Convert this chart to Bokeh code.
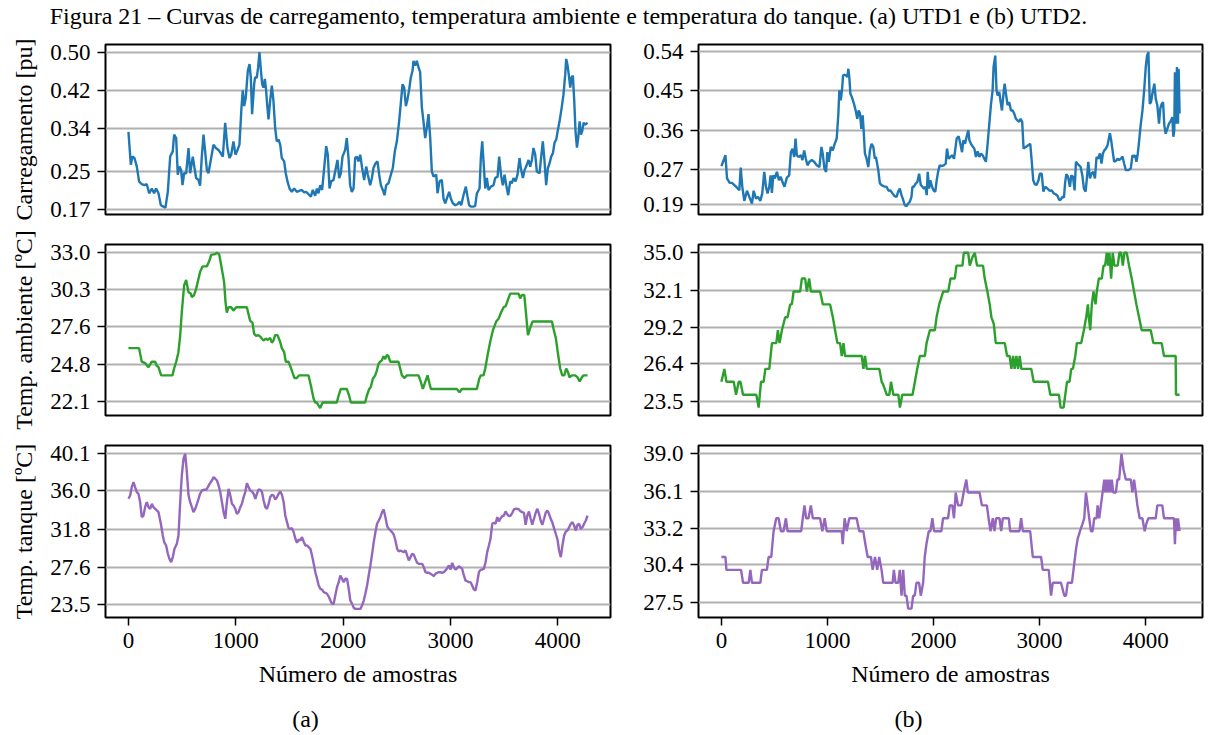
from bokeh.plotting import figure
from bokeh.layouts import column, row
from bokeh.models import Range1d, FixedTicker, PrintfTickFormatter, Label
from bokeh.embed import file_html
from bokeh.resources import INLINE

# ---------------------------------------------------------------- textos
TITULO = ("Figura 21 \u2013 Curvas de carregamento, temperatura ambiente e "
          "temperatura do tanque. (a) UTD1 e (b) UTD2.")
ROTULO_X = "Número de amostras"
ROTULOS_Y = ["Carregamento [pu]", "Temp. ambiente [ºC]", "Temp. tanque [ºC]"]
SUBLEGENDAS = ["(a)", "(b)"]

# ---------------------------------------------------------------- ticks
amostras_ticks = [0, 1000, 2000, 3000, 4000]
ticks_carga_utd1 = [0.17, 0.25, 0.34, 0.42, 0.50]
ticks_carga_utd2 = [0.19, 0.27, 0.36, 0.45, 0.54]
ticks_amb_utd1 = [22.1, 24.8, 27.6, 30.3, 33.0]
ticks_amb_utd2 = [23.5, 26.4, 29.2, 32.1, 35.0]
ticks_tanque_utd1 = [23.5, 27.6, 31.8, 36.0, 40.1]
ticks_tanque_utd2 = [27.5, 30.4, 33.2, 36.1, 39.0]

# ---------------------------------------------------------------- séries (amostra, valor)
carga_utd1 = [
    (0, 0.333), (22, 0.264), (37, 0.281), (56, 0.278), (78, 0.260), (99, 0.229), (124, 0.223),
    (149, 0.221), (171, 0.223), (193, 0.204), (218, 0.214), (239, 0.204), (258, 0.214), (280, 0.204),
    (302, 0.179), (326, 0.176), (345, 0.174), (367, 0.207), (389, 0.281), (413, 0.292), (426, 0.327),
    (445, 0.320), (460, 0.243), (476, 0.260), (491, 0.253), (504, 0.221), (519, 0.246), (538, 0.246),
    (560, 0.299), (575, 0.246), (600, 0.281), (616, 0.257), (631, 0.236), (653, 0.232), (668, 0.220),
    (684, 0.281), (700, 0.327), (715, 0.292), (731, 0.253), (746, 0.246), (771, 0.278), (793, 0.306),
    (815, 0.299), (839, 0.295), (861, 0.288), (880, 0.281), (902, 0.352), (923, 0.299), (942, 0.278),
    (958, 0.285), (979, 0.313), (998, 0.285), (1017, 0.295), (1035, 0.306), (1054, 0.384),
    (1066, 0.420), (1079, 0.387), (1094, 0.405), (1113, 0.461), (1129, 0.475), (1141, 0.447),
    (1153, 0.370), (1172, 0.433), (1181, 0.447), (1197, 0.447), (1209, 0.468), (1222, 0.500),
    (1234, 0.465), (1247, 0.433), (1259, 0.426), (1272, 0.444), (1284, 0.419), (1293, 0.391),
    (1306, 0.359), (1321, 0.398), (1337, 0.430), (1352, 0.398), (1368, 0.341), (1383, 0.313),
    (1399, 0.317), (1415, 0.306), (1430, 0.278), (1452, 0.271), (1467, 0.246), (1483, 0.229),
    (1502, 0.214), (1523, 0.207), (1545, 0.214), (1570, 0.207), (1592, 0.209), (1617, 0.211),
    (1638, 0.206), (1657, 0.207), (1679, 0.202), (1701, 0.197), (1719, 0.211), (1741, 0.199),
    (1757, 0.214), (1772, 0.204), (1788, 0.221), (1806, 0.211), (1825, 0.257), (1844, 0.303),
    (1859, 0.285), (1875, 0.214), (1890, 0.229), (1912, 0.232), (1934, 0.257), (1949, 0.274),
    (1965, 0.236), (1980, 0.246), (1996, 0.281), (2021, 0.295), (2036, 0.320), (2052, 0.278),
    (2067, 0.221), (2083, 0.207), (2099, 0.214), (2114, 0.278), (2130, 0.281), (2145, 0.271),
    (2161, 0.285), (2179, 0.257), (2198, 0.232), (2217, 0.260), (2232, 0.243), (2254, 0.221),
    (2270, 0.236), (2285, 0.257), (2304, 0.267), (2322, 0.271), (2338, 0.243), (2354, 0.221),
    (2372, 0.211), (2388, 0.200), (2403, 0.221), (2425, 0.225), (2447, 0.243), (2465, 0.257),
    (2484, 0.292), (2503, 0.313), (2524, 0.355), (2540, 0.394), (2556, 0.433), (2571, 0.426),
    (2587, 0.387), (2602, 0.401), (2618, 0.422), (2633, 0.447), (2649, 0.461), (2658, 0.482),
    (2674, 0.472), (2689, 0.482), (2705, 0.468), (2720, 0.458), (2736, 0.384), (2751, 0.355),
    (2767, 0.320), (2782, 0.341), (2798, 0.370), (2814, 0.320), (2829, 0.250), (2845, 0.239),
    (2870, 0.243), (2882, 0.204), (2901, 0.229), (2922, 0.232), (2938, 0.193), (2954, 0.183),
    (2975, 0.197), (2991, 0.207), (3006, 0.193), (3025, 0.183), (3047, 0.179), (3069, 0.181),
    (3087, 0.186), (3103, 0.179), (3124, 0.200), (3146, 0.218), (3162, 0.197), (3177, 0.179),
    (3193, 0.176), (3212, 0.176), (3233, 0.177), (3249, 0.204), (3274, 0.214), (3286, 0.278),
    (3299, 0.313), (3311, 0.271), (3327, 0.214), (3342, 0.236), (3358, 0.211), (3380, 0.218),
    (3404, 0.221), (3420, 0.236), (3442, 0.239), (3457, 0.281), (3476, 0.239), (3491, 0.221),
    (3507, 0.243), (3523, 0.221), (3541, 0.200), (3560, 0.229), (3575, 0.225), (3591, 0.236),
    (3610, 0.229), (3628, 0.243), (3647, 0.278), (3659, 0.257), (3678, 0.236), (3694, 0.253),
    (3715, 0.264), (3731, 0.274), (3746, 0.260), (3762, 0.274), (3777, 0.299), (3793, 0.285),
    (3808, 0.250), (3833, 0.246), (3849, 0.281), (3864, 0.313), (3880, 0.271), (3895, 0.221),
    (3911, 0.257), (3927, 0.267), (3942, 0.281), (3958, 0.288), (3973, 0.310), (3989, 0.317),
    (4005, 0.338), (4020, 0.355), (4042, 0.387), (4057, 0.412), (4073, 0.454), (4082, 0.486),
    (4095, 0.472), (4107, 0.451), (4120, 0.426), (4132, 0.447), (4144, 0.451), (4157, 0.398),
    (4169, 0.334), (4182, 0.300), (4194, 0.320), (4207, 0.355), (4219, 0.327), (4231, 0.334),
    (4244, 0.352), (4259, 0.348), (4281, 0.352),
]

carga_utd2 = [
    (0, 0.278), (22, 0.292), (38, 0.303), (53, 0.250), (78, 0.240), (100, 0.240), (122, 0.235),
    (147, 0.229), (169, 0.223), (182, 0.275), (197, 0.231), (216, 0.199), (241, 0.222), (263, 0.208),
    (288, 0.193), (304, 0.222), (326, 0.204), (345, 0.208), (367, 0.199), (385, 0.216), (404, 0.265),
    (420, 0.231), (435, 0.216), (451, 0.231), (464, 0.257), (476, 0.217), (489, 0.257), (504, 0.250),
    (523, 0.265), (542, 0.246), (558, 0.254), (576, 0.242), (595, 0.231), (617, 0.252), (639, 0.257),
    (655, 0.310), (670, 0.318), (686, 0.299), (699, 0.341), (711, 0.303), (727, 0.299), (749, 0.303),
    (764, 0.292), (780, 0.314), (796, 0.295), (811, 0.280), (830, 0.288), (852, 0.292), (874, 0.288),
    (899, 0.280), (924, 0.276), (943, 0.322), (955, 0.307), (971, 0.273), (987, 0.265), (999, 0.310),
    (1012, 0.288), (1031, 0.322), (1050, 0.314), (1068, 0.329), (1087, 0.341), (1103, 0.398),
    (1112, 0.451), (1125, 0.428), (1137, 0.451), (1147, 0.485), (1159, 0.486), (1175, 0.485),
    (1187, 0.481), (1197, 0.500), (1206, 0.481), (1216, 0.443), (1231, 0.435), (1250, 0.420),
    (1266, 0.405), (1281, 0.386), (1294, 0.405), (1307, 0.398), (1319, 0.363), (1332, 0.394),
    (1341, 0.360), (1353, 0.307), (1369, 0.295), (1385, 0.276), (1400, 0.314), (1416, 0.329),
    (1432, 0.322), (1447, 0.295), (1457, 0.299), (1479, 0.269), (1494, 0.239), (1510, 0.235),
    (1532, 0.232), (1557, 0.231), (1576, 0.222), (1592, 0.223), (1613, 0.216), (1632, 0.210),
    (1651, 0.208), (1667, 0.220), (1682, 0.227), (1698, 0.212), (1714, 0.201), (1729, 0.189),
    (1745, 0.187), (1761, 0.193), (1776, 0.197), (1792, 0.208), (1801, 0.231), (1814, 0.231),
    (1833, 0.239), (1848, 0.242), (1864, 0.261), (1880, 0.235), (1895, 0.231), (1911, 0.227),
    (1923, 0.231), (1936, 0.212), (1945, 0.265), (1958, 0.227), (1970, 0.246), (1986, 0.231),
    (2002, 0.222), (2017, 0.220), (2030, 0.246), (2043, 0.265), (2058, 0.280), (2074, 0.278),
    (2096, 0.280), (2115, 0.284), (2127, 0.318), (2143, 0.295), (2159, 0.299), (2174, 0.303),
    (2193, 0.295), (2206, 0.318), (2218, 0.341), (2237, 0.346), (2253, 0.329), (2269, 0.310),
    (2281, 0.337), (2297, 0.329), (2312, 0.345), (2328, 0.360), (2338, 0.337), (2353, 0.329),
    (2369, 0.323), (2385, 0.318), (2400, 0.299), (2416, 0.312), (2432, 0.299), (2447, 0.307),
    (2463, 0.303), (2479, 0.295), (2494, 0.288), (2510, 0.329), (2526, 0.375), (2541, 0.417),
    (2557, 0.451), (2566, 0.504), (2582, 0.530), (2594, 0.451), (2604, 0.439), (2620, 0.447),
    (2633, 0.424), (2645, 0.405), (2658, 0.439), (2670, 0.466), (2683, 0.443), (2698, 0.417),
    (2714, 0.424), (2730, 0.405), (2745, 0.405), (2761, 0.398), (2777, 0.386), (2792, 0.382),
    (2808, 0.379), (2821, 0.386), (2836, 0.379), (2849, 0.318), (2871, 0.322), (2896, 0.326),
    (2912, 0.329), (2924, 0.295), (2940, 0.246), (2955, 0.237), (2971, 0.235), (2990, 0.246),
    (3002, 0.261), (3020, 0.261), (3036, 0.220), (3052, 0.231), (3074, 0.227), (3096, 0.222),
    (3115, 0.223), (3133, 0.216), (3152, 0.214), (3171, 0.210), (3184, 0.201), (3199, 0.202),
    (3215, 0.208), (3230, 0.207), (3240, 0.239), (3252, 0.260), (3268, 0.254), (3286, 0.231),
    (3299, 0.257), (3315, 0.254), (3330, 0.223), (3343, 0.288), (3356, 0.284), (3372, 0.280),
    (3387, 0.276), (3403, 0.257), (3418, 0.227), (3434, 0.220), (3450, 0.261), (3459, 0.288),
    (3475, 0.250), (3490, 0.261), (3506, 0.265), (3522, 0.250), (3537, 0.299), (3553, 0.295),
    (3569, 0.307), (3584, 0.284), (3597, 0.307), (3610, 0.314), (3625, 0.318), (3641, 0.326),
    (3663, 0.353), (3675, 0.337), (3688, 0.314), (3703, 0.288), (3719, 0.290), (3735, 0.295),
    (3750, 0.292), (3766, 0.295), (3782, 0.300), (3797, 0.284), (3813, 0.269), (3838, 0.269),
    (3860, 0.273), (3876, 0.303), (3889, 0.299), (3900, 0.303), (3913, 0.288), (3926, 0.307),
    (3939, 0.337), (3951, 0.367), (3970, 0.405), (3986, 0.451), (4001, 0.504), (4013, 0.530),
    (4026, 0.538), (4039, 0.420), (4051, 0.424), (4063, 0.443), (4082, 0.466), (4095, 0.432),
    (4110, 0.417), (4126, 0.375), (4138, 0.409), (4151, 0.420), (4164, 0.424), (4176, 0.371),
    (4189, 0.352), (4204, 0.363), (4220, 0.375), (4239, 0.382), (4251, 0.390), (4261, 0.345),
    (4270, 0.360), (4276, 0.492), (4286, 0.375), (4295, 0.504), (4305, 0.375), (4311, 0.500),
    (4320, 0.398),
]

ambiente_utd1 = [
    (0, 26.0), (99, 26.0), (124, 25.0), (155, 24.9), (187, 24.6), (218, 25.0), (249, 25.0),
    (264, 24.7), (280, 24.6), (305, 24.0), (410, 24.0), (426, 24.5), (445, 25.0), (466, 25.7),
    (482, 26.9), (497, 28.6), (519, 30.6), (538, 31.0), (560, 30.1), (581, 30.0), (591, 29.75),
    (612, 29.9), (631, 30.35), (653, 31.1), (668, 31.6), (690, 32.0), (731, 32.0), (756, 32.45),
    (771, 32.85), (808, 32.9), (824, 33.0), (846, 32.9), (871, 31.8), (892, 30.85), (905, 29.4),
    (917, 28.6), (933, 29.0), (958, 29.0), (979, 28.75), (1004, 29.0), (1104, 29.0), (1135, 28.0),
    (1157, 27.85), (1172, 27.05), (1191, 26.9), (1212, 26.95), (1234, 26.8), (1259, 26.55),
    (1281, 26.7), (1300, 26.6), (1321, 26.75), (1337, 26.4), (1352, 26.55), (1368, 26.95),
    (1390, 26.95), (1415, 26.45), (1430, 26.0), (1452, 25.7), (1467, 25.0), (1492, 25.0),
    (1508, 24.7), (1530, 24.2), (1548, 23.8), (1570, 23.8), (1592, 24.0), (1679, 24.0),
    (1701, 23.25), (1726, 22.3), (1741, 22.0), (1757, 22.0), (1772, 21.8), (1788, 21.6),
    (1810, 22.0), (1943, 22.0), (1959, 22.5), (1980, 23.0), (2036, 23.0), (2058, 22.5),
    (2074, 22.0), (2207, 22.0), (2223, 22.5), (2245, 23.0), (2260, 23.15), (2279, 23.75),
    (2301, 24.0), (2316, 24.35), (2332, 24.85), (2347, 25.0), (2363, 25.1), (2378, 25.4),
    (2394, 25.2), (2410, 25.5), (2425, 25.4), (2441, 25.0), (2518, 25.0), (2534, 24.5),
    (2550, 24.0), (2571, 23.8), (2596, 24.0), (2705, 24.0), (2727, 23.5), (2745, 23.0),
    (2767, 23.5), (2789, 24.0), (2807, 23.4), (2820, 23.0), (3062, 23.0), (3087, 22.75),
    (3109, 23.0), (3249, 23.0), (3271, 23.75), (3286, 24.0), (3311, 24.0), (3327, 24.5),
    (3348, 25.45), (3373, 26.45), (3398, 27.3), (3429, 27.95), (3451, 28.15), (3476, 28.65),
    (3498, 29.0), (3519, 29.1), (3541, 29.6), (3560, 30.0), (3638, 30.0), (3653, 29.65),
    (3669, 29.9), (3691, 29.9), (3709, 28.4), (3725, 26.95), (3747, 27.5), (3768, 27.95),
    (3949, 27.95), (3964, 27.4), (3986, 26.7), (4005, 25.6), (4026, 24.5), (4045, 24.0),
    (4064, 24.0), (4082, 24.5), (4098, 24.25), (4113, 23.85), (4135, 24.0), (4166, 24.0),
    (4188, 23.85), (4207, 23.55), (4228, 23.85), (4244, 24.0), (4281, 24.0),
]

ambiente_utd2 = [
    (0, 25), (28, 26), (47, 25), (116, 25), (138, 24), (163, 25), (179, 25), (204, 24), (329, 24),
    (351, 23), (373, 25), (398, 25), (414, 26), (451, 26), (476, 28), (517, 28), (532, 29),
    (548, 28), (570, 29), (601, 30), (623, 30), (648, 31), (664, 31), (680, 32), (742, 32),
    (758, 33), (789, 33), (805, 32), (827, 33), (843, 32), (930, 32), (956, 31), (1024, 31),
    (1050, 30), (1071, 29), (1093, 28), (1118, 28), (1134, 27), (1150, 28), (1165, 27),
    (1322, 27), (1338, 26), (1353, 27), (1369, 26), (1488, 26), (1510, 25), (1526, 24.75),
    (1557, 24), (1582, 24), (1598, 25), (1620, 24), (1667, 24), (1682, 23), (1704, 24),
    (1801, 24), (1823, 25), (1845, 26), (1870, 27), (1917, 27), (1933, 28), (1964, 29),
    (2011, 29), (2027, 30), (2052, 31), (2090, 32), (2137, 32), (2159, 33), (2199, 33),
    (2215, 34), (2271, 34), (2284, 35), (2325, 35), (2340, 34), (2365, 34.65), (2387, 35),
    (2409, 34), (2465, 34), (2481, 33), (2506, 32), (2528, 31), (2544, 30), (2566, 29.5),
    (2585, 28), (2670, 28), (2692, 27), (2716, 27), (2732, 26), (2748, 27), (2763, 26),
    (2779, 27), (2795, 26), (2810, 27), (2826, 26), (2920, 26), (2942, 25), (3077, 25),
    (3099, 24), (3180, 24), (3196, 23), (3224, 23), (3256, 25), (3280, 25), (3296, 26),
    (3312, 26), (3334, 27), (3349, 28), (3390, 28), (3415, 29), (3437, 30), (3453, 31),
    (3462, 30), (3475, 29), (3490, 31), (3506, 32), (3525, 31), (3537, 32), (3556, 33),
    (3584, 33), (3600, 34), (3615, 34), (3631, 35), (3644, 34), (3656, 35), (3672, 33),
    (3687, 35), (3703, 34), (3734, 34), (3750, 35), (3766, 35), (3782, 34), (3797, 35),
    (3819, 35), (3841, 34), (3866, 33), (3888, 32), (3910, 31), (3935, 30), (3960, 29),
    (4045, 29), (4070, 28), (4148, 28), (4170, 27), (4280, 27), (4283, 24), (4317, 24),
]

tanque_utd1 = [
    (0, 35.14), (16, 35.5), (31, 36.43), (47, 36.98), (62, 36.43), (78, 35.88), (93, 35.7),
    (109, 34.77), (124, 33.12), (140, 33.3), (155, 34.22), (171, 34.77), (187, 34.22),
    (202, 34.04), (218, 34.59), (233, 34.22), (249, 34.04), (264, 33.86), (280, 33.67),
    (302, 32.39), (320, 31.1), (333, 30.37), (351, 30.0), (367, 29.09), (382, 28.53),
    (398, 28.16), (413, 28.72), (429, 29.63), (451, 30.18), (466, 31.1), (482, 34.77),
    (497, 37.71), (513, 39.55), (529, 40.1), (544, 38.08), (560, 35.5), (575, 34.77),
    (591, 34.22), (606, 33.67), (622, 34.04), (638, 34.59), (653, 35.14), (668, 35.7),
    (684, 36.06), (700, 36.13), (724, 36.13), (740, 36.43), (756, 36.79), (777, 37.16),
    (793, 37.53), (809, 37.35), (824, 37.16), (840, 36.61), (855, 35.88), (871, 34.77),
    (886, 33.67), (902, 32.94), (917, 34.77), (933, 36.24), (949, 35.5), (964, 34.59),
    (979, 34.4), (995, 34.04), (1010, 33.49), (1026, 33.67), (1042, 34.22), (1057, 34.59),
    (1073, 35.33), (1088, 35.88), (1104, 36.87), (1119, 36.43), (1135, 36.06), (1150, 35.95),
    (1166, 35.7), (1182, 35.14), (1197, 35.7), (1213, 36.17), (1228, 36.13), (1244, 35.88),
    (1259, 34.96), (1275, 34.22), (1290, 34.04), (1306, 34.59), (1321, 35.33), (1337, 35.58),
    (1352, 35.5), (1368, 35.07), (1384, 35.33), (1399, 35.7), (1415, 35.95), (1430, 35.58),
    (1446, 34.77), (1461, 33.3), (1477, 32.57), (1492, 31.91), (1508, 31.84), (1523, 31.91),
    (1539, 31.47), (1555, 30.74), (1570, 30.3), (1586, 30.66), (1601, 30.55), (1617, 30.92),
    (1632, 30.44), (1648, 30.0), (1663, 30.0), (1679, 29.82), (1695, 29.63), (1710, 28.9),
    (1726, 27.98), (1741, 27.06), (1757, 26.33), (1772, 25.6), (1788, 25.23), (1804, 25.15),
    (1819, 24.86), (1835, 24.78), (1850, 24.68), (1866, 24.38), (1881, 23.94), (1897, 23.57),
    (1912, 23.57), (1928, 24.57), (1943, 25.41), (1959, 25.96), (1974, 26.7), (1990, 26.33),
    (2005, 25.96), (2021, 26.33), (2036, 26.33), (2052, 25.23), (2067, 23.94), (2083, 23.57),
    (2099, 23.13), (2114, 23.02), (2130, 23.02), (2145, 23.02), (2161, 23.02), (2176, 23.39),
    (2192, 23.94), (2207, 24.68), (2223, 25.6), (2238, 26.7), (2254, 27.8), (2270, 29.08),
    (2285, 30.37), (2301, 31.47), (2316, 32.39), (2332, 32.75), (2347, 33.12), (2363, 33.67),
    (2378, 33.97), (2394, 33.12), (2410, 32.13), (2425, 31.84), (2441, 31.65), (2456, 31.47),
    (2472, 31.18), (2487, 30.55), (2503, 29.63), (2518, 29.34), (2534, 29.45), (2550, 29.34),
    (2565, 29.27), (2581, 29.45), (2596, 28.9), (2612, 28.35), (2628, 28.72), (2643, 29.08),
    (2659, 28.97), (2674, 28.53), (2689, 28.09), (2705, 27.98), (2721, 27.98), (2736, 27.98),
    (2752, 27.6), (2767, 27.06), (2783, 26.99), (2798, 26.99), (2814, 26.88), (2829, 26.77),
    (2845, 26.62), (2860, 26.88), (2876, 26.99), (2891, 27.06), (2907, 27.06), (2922, 26.99),
    (2938, 27.06), (2954, 27.25), (2969, 27.5), (2985, 27.8), (3000, 27.36), (3016, 28.09),
    (3031, 27.6), (3047, 27.36), (3062, 27.5), (3078, 27.72), (3093, 27.6), (3109, 27.43),
    (3125, 26.7), (3140, 26.14), (3156, 26.07), (3171, 25.96), (3187, 25.96), (3202, 25.6),
    (3218, 25.15), (3233, 25.04), (3249, 25.96), (3265, 27.06), (3280, 27.32), (3296, 27.36),
    (3311, 27.43), (3327, 28.16), (3342, 29.27), (3358, 30.0), (3373, 30.74), (3389, 32.39),
    (3404, 32.5), (3420, 32.39), (3436, 33.12), (3451, 32.65), (3467, 33.01), (3482, 33.23),
    (3498, 33.3), (3513, 33.75), (3529, 33.42), (3545, 33.23), (3560, 33.3), (3576, 33.6),
    (3591, 33.97), (3607, 34.04), (3622, 34.04), (3638, 33.97), (3654, 33.75), (3669, 33.67),
    (3685, 33.6), (3700, 32.28), (3716, 33.3), (3731, 33.75), (3747, 32.94), (3762, 32.28),
    (3778, 32.94), (3794, 33.6), (3809, 34.04), (3825, 33.49), (3840, 32.75), (3856, 32.28),
    (3872, 32.94), (3887, 33.6), (3903, 33.86), (3918, 33.49), (3934, 32.94), (3950, 32.5),
    (3965, 31.91), (3981, 31.29), (3997, 30.66), (4012, 29.45), (4028, 28.72), (4043, 30.0),
    (4059, 31.1), (4075, 31.54), (4090, 31.65), (4106, 32.02), (4121, 32.39), (4137, 32.57),
    (4152, 32.2), (4168, 31.65), (4183, 32.28), (4199, 32.39), (4214, 31.84), (4230, 32.02),
    (4245, 32.39), (4261, 32.75), (4277, 33.3),
]

tanque_utd2 = [
    (0, 31), (38, 31), (47, 30), (185, 30), (204, 29), (257, 29), (273, 30), (288, 29),
    (367, 29), (382, 30), (429, 30), (445, 31), (470, 31), (492, 33), (517, 34), (539, 34),
    (561, 33), (586, 33), (608, 34), (623, 33), (752, 33), (767, 34), (783, 35), (799, 34),
    (821, 34), (843, 35), (862, 34), (930, 34), (952, 33), (974, 34), (993, 33), (1134, 33),
    (1144, 32), (1162, 34), (1181, 33), (1206, 34), (1275, 34), (1300, 33), (1338, 33),
    (1357, 32), (1379, 31), (1410, 31), (1426, 30), (1448, 31), (1469, 30), (1488, 31),
    (1510, 30), (1526, 29), (1614, 29), (1626, 30), (1642, 29), (1667, 29), (1682, 30),
    (1698, 28), (1714, 30), (1729, 28), (1745, 28), (1761, 27), (1792, 27), (1808, 28),
    (1823, 28), (1839, 29), (1864, 29), (1880, 28), (1902, 29), (1917, 31), (1933, 32),
    (1955, 33), (1971, 33), (1989, 34), (2005, 33), (2074, 33), (2090, 34), (2137, 34),
    (2153, 35), (2177, 35), (2193, 34), (2209, 36), (2231, 35), (2262, 35), (2284, 36),
    (2309, 37), (2324, 36), (2434, 36), (2456, 35), (2503, 35), (2519, 34), (2537, 33),
    (2559, 34), (2575, 33), (2590, 34), (2622, 34), (2638, 33), (2653, 34), (2710, 34),
    (2722, 33), (2810, 33), (2826, 34), (2842, 33), (2911, 33), (2936, 31), (3014, 31),
    (3030, 30), (3086, 30), (3108, 28), (3124, 29), (3202, 29), (3233, 28), (3249, 28),
    (3265, 29), (3305, 29), (3327, 30.5), (3343, 31.6), (3359, 32.4), (3381, 33), (3406, 33.6),
    (3421, 34), (3437, 36), (3453, 35), (3468, 34), (3484, 33), (3500, 33), (3515, 34),
    (3537, 34), (3547, 35), (3562, 34), (3578, 35), (3594, 36), (3610, 37), (3619, 36),
    (3631, 37), (3644, 36), (3656, 37), (3669, 36), (3681, 37), (3694, 36), (3719, 36),
    (3734, 37), (3750, 37), (3772, 39), (3791, 37.8), (3813, 37), (3860, 37), (3875, 36),
    (3891, 37), (3907, 36), (3922, 35), (3944, 34), (3969, 34), (3991, 33), (4007, 33.6),
    (4026, 34), (4095, 34), (4110, 35), (4157, 35), (4173, 34), (4267, 34), (4276, 32),
    (4286, 34), (4295, 33), (4305, 34), (4320, 33),
]

# ---------------------------------------------------------------- estilo
SERIF = "Liberation Serif"
AZUL, VERDE, ROXO = "#1f77b4", "#2ca02c", "#9467bd"

LARGURA = [640, 568]          # coluna (a), coluna (b)
BORDA_ESQ = [105, 58]
BORDA_DIR = [30, 6]
ALTURA = [199, 201, 270]      # linhas 1..3
BORDA_SUP = [14, 15, 15]
BORDA_INF = [15, 15, 83]


def painel(serie, cor, ticks, fmt, y_lim, col, lin, ylabel=None):
    xs = [a for a, _ in serie]
    ys = [b for _, b in serie]
    x_max = xs[-1]
    p = figure(width=LARGURA[col], height=ALTURA[lin], output_backend="svg",
               toolbar_location=None,
               x_range=Range1d(-0.05 * x_max, 1.05 * x_max),
               y_range=Range1d(*y_lim),
               min_border_left=BORDA_ESQ[col], min_border_right=BORDA_DIR[col],
               min_border_top=BORDA_SUP[lin], min_border_bottom=BORDA_INF[lin])
    p.line(xs, ys, line_color=cor, line_width=2.4)

    p.background_fill_color = "white"
    p.border_fill_color = "white"
    p.outline_line_color = "black"
    p.outline_line_width = 2
    p.outline_line_alpha = 1.0

    p.xgrid.visible = False
    p.ygrid.ticker = FixedTicker(ticks=ticks)
    p.ygrid.grid_line_color = "#b0b0b0"
    p.ygrid.grid_line_width = 2

    ax = p.yaxis[0]
    ax.ticker = FixedTicker(ticks=ticks)
    ax.formatter = PrintfTickFormatter(format=fmt)
    eixos = [ax]
    if lin == 2:
        bx = p.xaxis[0]
        bx.ticker = FixedTicker(ticks=amostras_ticks)
        bx.axis_label = ROTULO_X
        eixos.append(bx)
    else:
        p.xaxis.visible = False
    for e in eixos:
        e.axis_line_color = None
        e.major_tick_out = 8
        e.major_tick_in = 0
        e.major_tick_line_width = 1.5
        e.major_tick_line_color = "black"
        e.minor_tick_line_color = None
        e.major_label_text_font = SERIF
        e.major_label_text_font_size = "23px"
        e.major_label_text_color = "black"
        e.major_label_standoff = 7
        e.axis_label_text_font = SERIF
        e.axis_label_text_font_size = "24px"
        e.axis_label_text_font_style = "normal"
        e.axis_label_text_color = "black"
        e.axis_label_standoff = 10
    if ylabel:
        ax.axis_label = ylabel
    return p


def quadro_texto(w, h, texto, cx, cy, tamanho):
    q = figure(width=w, height=h, output_backend="svg", toolbar_location=None,
               x_range=Range1d(0, w), y_range=Range1d(0, h),
               x_axis_location=None, y_axis_location=None, min_border=0)
    q.grid.visible = False
    q.outline_line_color = None
    q.add_layout(Label(x=cx, y=cy, text=texto, text_align="center",
                       text_baseline="middle", text_font=SERIF,
                       text_font_size=tamanho, text_color="black"))
    return q


l1 = painel(carga_utd1, AZUL, ticks_carga_utd1, "%.2f", (0.1595, 0.5162), 0, 0, ROTULOS_Y[0])
r1 = painel(carga_utd2, AZUL, ticks_carga_utd2, "%.2f", (0.1679, 0.5553), 1, 0)
l2 = painel(ambiente_utd1, VERDE, ticks_amb_utd1, "%.1f", (21.05, 33.61), 0, 1, ROTULOS_Y[1])
r2 = painel(ambiente_utd2, VERDE, ticks_amb_utd2, "%.1f", (22.39, 35.64), 1, 1)
l3 = painel(tanque_utd1, ROXO, ticks_tanque_utd1, "%.1f", (22.07, 41.01), 0, 2, ROTULOS_Y[2])
r3 = painel(tanque_utd2, ROXO, ticks_tanque_utd2, "%.1f", (26.31, 39.64), 1, 2)

titulo = quadro_texto(1208, 30, TITULO, 568, 15, "24px")
sub_a = quadro_texto(LARGURA[0], 35, SUBLEGENDAS[0], 305, 17, "24px")
sub_b = quadro_texto(LARGURA[1], 35, SUBLEGENDAS[1], 268, 17, "24px")

pagina = column(titulo, row(l1, r1), row(l2, r2), row(l3, r3), row(sub_a, sub_b))

with open("out.html", "w") as f:
    f.write(file_html(pagina, INLINE, title="Figura 21"))
